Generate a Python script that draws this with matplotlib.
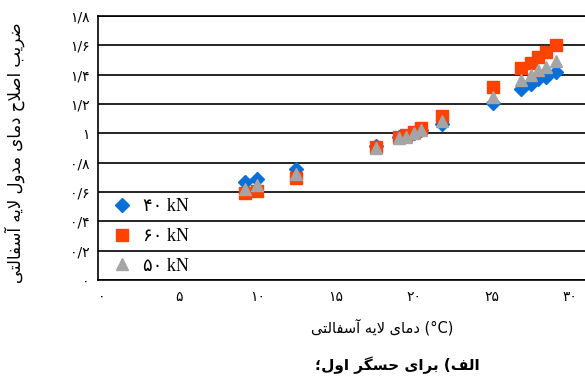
import matplotlib
matplotlib.use('Agg')
import matplotlib.pyplot as plt

# temperature of asphalt layer (C)
temp = [9.2, 10.0, 12.5, 17.6, 19.1, 19.5, 20.0, 20.5, 21.8, 25.1, 26.9, 27.5, 28.0, 28.5, 29.1]
# correction factor for each load
f40 = [0.67, 0.69, 0.76, 0.915, 0.975, 0.985, 1.005, 1.025, 1.065, 1.21, 1.305, 1.335, 1.37, 1.385, 1.415]
f60 = [0.59, 0.61, 0.695, 0.91, 0.975, 0.99, 1.01, 1.035, 1.115, 1.315, 1.445, 1.48, 1.52, 1.555, 1.6]
f50 = [0.62, 0.645, 0.725, 0.90, 0.965, 0.975, 1.0, 1.02, 1.085, 1.25, 1.365, 1.40, 1.435, 1.455, 1.495]

series_labels = ['۴۰ kN', '۶۰ kN', '۵۰ kN']
xticks = [0, 5, 10, 15, 20, 25, 30]
yticks = [0, 0.2, 0.4, 0.6, 0.8, 1.0, 1.2, 1.4, 1.6, 1.8]

ylabel = 'ضریب اصلاح دمای مدول لایه آسفالتی'
xlabel = 'دمای لایه آسفالتی'
caption = 'الف) برای حسگر اول؛'

### simple persian shaping (no reshaper lib available offline)
FORMS = {
    'ا': ('\uFE8D', '\uFE8E', None, None),
    'آ': ('\uFE81', '\uFE82', None, None),
    'ب': ('\uFE8F', '\uFE90', '\uFE91', '\uFE92'),
    'ت': ('\uFE95', '\uFE96', '\uFE97', '\uFE98'),
    'ح': ('\uFEA1', '\uFEA2', '\uFEA3', '\uFEA4'),
    'د': ('\uFEA9', '\uFEAA', None, None),
    'ر': ('\uFEAD', '\uFEAE', None, None),
    'س': ('\uFEB1', '\uFEB2', '\uFEB3', '\uFEB4'),
    'ص': ('\uFEB9', '\uFEBA', '\uFEBB', '\uFEBC'),
    'ض': ('\uFEBD', '\uFEBE', '\uFEBF', '\uFEC0'),
    'ف': ('\uFED1', '\uFED2', '\uFED3', '\uFED4'),
    'ل': ('\uFEDD', '\uFEDE', '\uFEDF', '\uFEE0'),
    'م': ('\uFEE1', '\uFEE2', '\uFEE3', '\uFEE4'),
    'ه': ('\uFEE9', '\uFEEA', '\uFEEB', '\uFEEC'),
    'و': ('\uFEED', '\uFEEE', None, None),
    'ی': ('\uFBFC', '\uFBFD', '\uFBFE', '\uFBFF'),
    'گ': ('\uFB92', '\uFB93', '\uFB94', '\uFB95'),
    '\u0001': ('\uFEFB', '\uFEFC', None, None),   # lam-alef
    '\u0002': ('\uFEF5', '\uFEF6', None, None),   # lam-alef madda
}
MIRROR = {'(': ')', ')': '('}


def fa(text):
    s = text.replace('لا', '\u0001').replace('لآ', '\u0002')
    out = []
    for i, c in enumerate(s):
        if c not in FORMS:
            out.append(MIRROR.get(c, c))
            continue
        prev = s[i-1] if i > 0 else ''
        nxt = s[i+1] if i < len(s)-1 else ''
        jp = prev in FORMS and FORMS[prev][2] is not None
        jn = FORMS[c][2] is not None and nxt in FORMS
        iso, fin, ini, med = FORMS[c]
        if jp and jn:
            out.append(med)
        elif jp:
            out.append(fin)
        elif jn:
            out.append(ini)
        else:
            out.append(iso)
    return ''.join(out[::-1])


def fa_num(v):
    digits = '۰۱۲۳۴۵۶۷۸۹'
    s = ('%g' % v).replace('.', '/')
    return ''.join(digits[int(ch)] if ch.isdigit() else ch for ch in s)


plt.rcParams['font.family'] = ['DejaVu Sans']

fig = plt.figure(figsize=(5.85, 3.88), dpi=100)
ax = fig.add_axes([98/585, 1-280/388, 495/585, 264/388])

ax.plot(temp, f40, 'D', color='#0A6FD6', ms=7, label=series_labels[0], zorder=3)
ax.plot(temp, f60, 's', color='#FF4200', ms=8.5, label=series_labels[1], zorder=4)
ax.plot(temp, f50, '^', color='#A5A5A5', ms=9, label=series_labels[2], zorder=5)

ax.set_xlim(-0.22, 31.5)
ax.set_ylim(0, 1.8)
ax.set_xticks(xticks)
ax.set_xticklabels([fa_num(v) for v in xticks], fontsize=10)
ax.set_yticks(yticks)
ax.set_yticklabels([fa_num(v) for v in yticks], fontsize=10)
ax.tick_params(length=0)
ax.tick_params(axis='y', pad=6)
ax.tick_params(axis='x', pad=7)
ax.grid(axis='y', color='black', lw=1.2)
ax.set_axisbelow(True)
for sp in ax.spines.values():
    sp.set_linewidth(1.2)

ax.legend(loc='upper left', bbox_to_anchor=(0.012, 0.337), frameon=False,
          prop={'family': ['Liberation Serif', 'DejaVu Sans'], 'size': 13},
          handletextpad=0.55, labelspacing=0.7, borderaxespad=0, handlelength=1.2)

fig.text(15/585, 1-153/388, fa(ylabel), rotation=90, ha='center', va='center', fontsize=12)
fig.text(382/585, 1-327/388, fa(xlabel) + ' (°C)', ha='center', va='center', fontsize=10.5)
fig.text(397/585, 1-365/388, fa(caption), ha='center', va='center', fontsize=11, fontweight='bold')

fig.savefig('out.png', dpi=100)
